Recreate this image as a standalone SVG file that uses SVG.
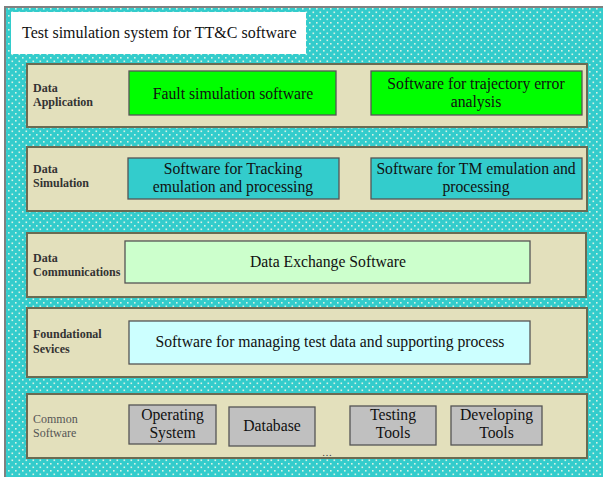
<svg xmlns="http://www.w3.org/2000/svg" width="603" height="477" viewBox="0 0 603 477">
<defs>
<pattern id="dots" width="7" height="7" patternUnits="userSpaceOnUse">
<rect width="7" height="7" fill="#33CCCC"/>
<rect x="1" y="1" width="1.6" height="1.6" fill="#d8f2e4"/>
<rect x="4.5" y="4.5" width="1.6" height="1.6" fill="#d8f2e4"/>
</pattern>
<style>
.layer{fill:#E3E0BC;stroke:#6b6b52;stroke-width:2}
.box{stroke:#555;stroke-width:1.3}
.t{font-family:"Liberation Serif",serif;font-size:15.7px;fill:#111;text-anchor:middle}
.lb{font-family:"Liberation Serif",serif;font-size:12px;font-weight:bold;fill:#333}
.ln{font-family:"Liberation Serif",serif;font-size:12px;fill:#555}
</style>
</defs>
<rect x="5" y="7" width="600" height="472" fill="url(#dots)" stroke="#808080" stroke-width="2"/>
<g id="title">
<rect x="11" y="12" width="295" height="42" fill="#fff"/>
<text x="22" y="38" style="font-family:'Liberation Serif',serif;font-size:16px;fill:#111">Test simulation system for TT&amp;C software</text>
</g>
<g id="connectors"></g>
<g id="layer-application">
<rect class="layer" x="27" y="64" width="560" height="63"/>
<text class="lb" x="33" y="92">Data</text>
<text class="lb" x="33" y="106">Application</text>
</g>
<g id="fault">
<rect class="box" x="129" y="71" width="207" height="44" fill="#00FF00"/>
<text class="t" x="233" y="99">Fault simulation software</text>
</g>
<g id="trajectory">
<rect class="box" x="371" y="71" width="211" height="44" fill="#00FF00"/>
<text class="t" x="476" y="89">Software for trajectory error</text>
<text class="t" x="476" y="107">analysis</text>
</g>
<g id="layer-simulation">
<rect class="layer" x="27" y="147" width="560" height="64"/>
<text class="lb" x="33" y="173">Data</text>
<text class="lb" x="33" y="187">Simulation</text>
</g>
<g id="tracking">
<rect class="box" x="128" y="158" width="211" height="41" fill="#33CCCC"/>
<text class="t" x="233" y="174">Software for Tracking</text>
<text class="t" x="233" y="192">emulation and processing</text>
</g>
<g id="tm">
<rect class="box" x="371" y="158" width="211" height="41" fill="#33CCCC"/>
<text class="t" x="476" y="174">Software for TM emulation and</text>
<text class="t" x="476" y="192">processing</text>
</g>
<g id="layer-communications">
<rect class="layer" x="27" y="233" width="559" height="64"/>
<text class="lb" x="33" y="262">Data</text>
<text class="lb" x="33" y="276">Communications</text>
</g>
<g id="exchange">
<rect class="box" x="125" y="241" width="405" height="42" fill="#CCFFCC"/>
<text class="t" x="328" y="267">Data Exchange Software</text>
</g>
<g id="layer-foundational">
<rect class="layer" x="27" y="308" width="560" height="69"/>
<text class="lb" x="33" y="338">Foundational</text>
<text class="lb" x="33" y="353">Sevices</text>
</g>
<g id="managing">
<rect class="box" x="129" y="321" width="401" height="43" fill="#CCFFFF"/>
<text class="t" x="330" y="347">Software for managing test data and supporting process</text>
</g>
<g id="layer-common">
<rect class="layer" x="27" y="394" width="560" height="64"/>
<text class="ln" x="33" y="423">Common</text>
<text class="ln" x="33" y="437">Software</text>
<text x="327" y="456" style="font-family:'Liberation Serif',serif;font-size:10px;fill:#333;text-anchor:middle">…</text>
</g>
<g id="os">
<rect class="box" x="129" y="405" width="87" height="39" fill="#C0C0C0"/>
<text class="t" x="172.5" y="420">Operating</text>
<text class="t" x="172.5" y="438">System</text>
</g>
<g id="database">
<rect class="box" x="229" y="407" width="86" height="39" fill="#C0C0C0"/>
<text class="t" x="272" y="431">Database</text>
</g>
<g id="testing">
<rect class="box" x="350" y="406" width="86" height="39" fill="#C0C0C0"/>
<text class="t" x="393" y="420">Testing</text>
<text class="t" x="393" y="438">Tools</text>
</g>
<g id="developing">
<rect class="box" x="451" y="406" width="91" height="39" fill="#C0C0C0"/>
<text class="t" x="496.5" y="420">Developing</text>
<text class="t" x="496.5" y="438">Tools</text>
</g>
</svg>
